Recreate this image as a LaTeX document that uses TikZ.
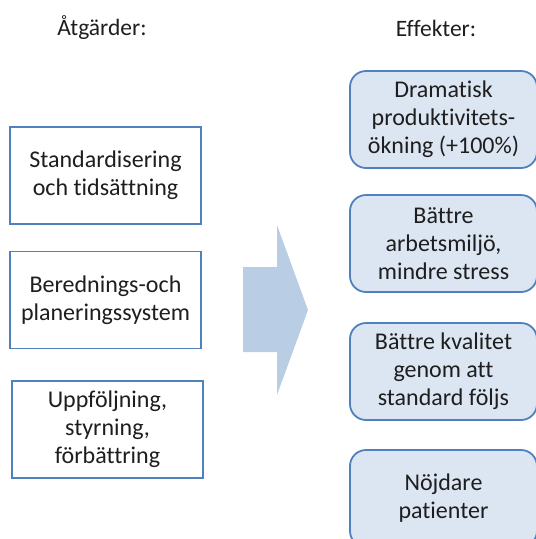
\documentclass[tikz,border=0pt]{standalone}
\usepackage{fontspec}
\setmainfont{Carlito}[Ligatures=NoCommon]
\usetikzlibrary{positioning}
\definecolor{boxblue}{RGB}{79,129,189}
\definecolor{boxfill}{RGB}{220,230,242}
\definecolor{arrowfill}{RGB}{185,205,229}
\definecolor{textgray}{RGB}{30,30,30}

\begin{document}
\begin{tikzpicture}[x=1pt, y=-1pt,
    rubrik/.style={text=textgray, font=\fontsize{23.5}{28}\selectfont},
    atgard/.style={draw=boxblue, line width=1.8pt, fill=white, minimum width=191pt, minimum height=97pt, inner sep=0pt, align=center, text=textgray, font=\fontsize{24}{28}\selectfont},
    effekt/.style={atgard, fill=boxfill, rounded corners=16pt, minimum width=187pt}]
      \useasboundingbox (0,0) rectangle (536,539);
      \clip (0,0) rectangle (536,539);

      % rubriker
      \node[rubrik] (hAtgard) at (102, 28) {Åtgärder:};
      \node[rubrik] (hEffekt) at (436, 28) {Effekter:};

      % åtgärder
      \node[atgard] (a1) at (105.5, 175.5) {Standardisering\\och tidsättning};
      \node[atgard] (a2) at (105.5, 300) {Berednings-och\\planeringssystem};
      \node[atgard] (a3) at (107.5, 429.5) {Uppföljning,\\styrning,\\förbättring};

      % pil
      \fill[arrowfill] (243, 267) -- (277, 267) -- (277, 225) -- (308, 310) -- (277, 395) -- (277, 352) -- (243, 352) -- cycle;

      % effekter
      \node[effekt] (e1) at (443.5, 119.5) {Dramatisk\\produktivitets-\\ökning (+100\%)};
      \node[effekt] (e2) at (443.5, 243.5) {Bättre\\arbetsmiljö,\\mindre stress};
      \node[effekt] (e3) at (443.5, 371.5) {Bättre kvalitet\\genom att\\standard följs};
      \node[effekt] (e4) at (443.5, 498.5) {Nöjdare\\patienter};

    \end{tikzpicture}
\end{document}
